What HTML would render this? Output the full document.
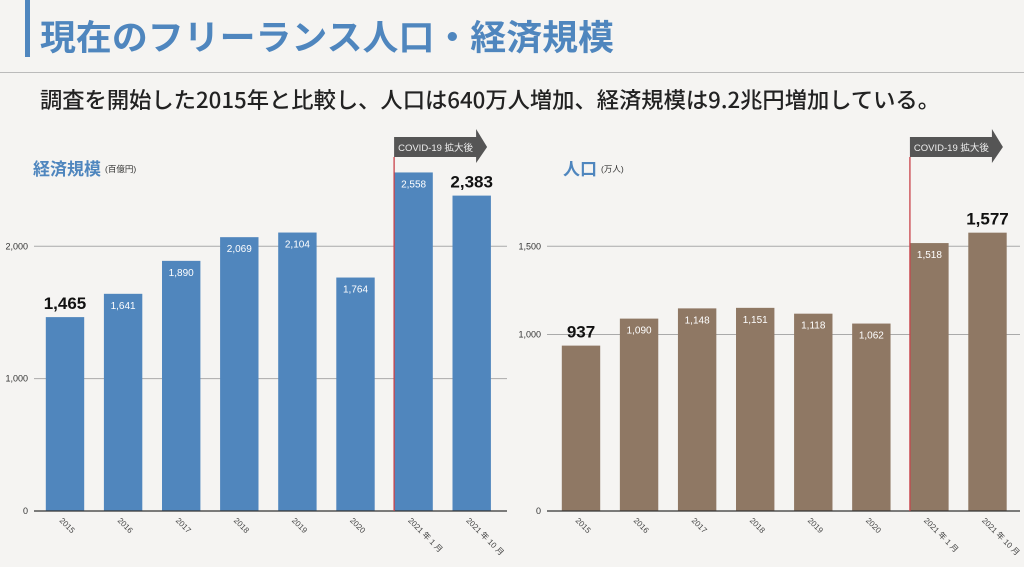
<!DOCTYPE html>
<html><head><meta charset="utf-8"><style>
html,body{margin:0;padding:0;background:#f5f4f2;}
svg{display:block;font-family:"Liberation Sans","Noto Sans CJK JP",sans-serif;}
</style></head><body>
<svg id="s" width="1024" height="567" viewBox="0 0 1024 567" xmlns="http://www.w3.org/2000/svg">
<rect width="1024" height="567" fill="#f5f4f2"/>
<rect x="25" y="0" width="5" height="57" fill="#4f86be"/>
<text x="40" y="50" font-size="35" font-weight="bold" fill="#4f86be" textLength="574" lengthAdjust="spacingAndGlyphs" font-family="Noto Sans CJK JP, sans-serif">現在のフリーランス人口・経済規模</text>
<line x1="0" y1="72.5" x2="1024" y2="72.5" stroke="#bbb" stroke-width="1"/>
<text x="40" y="108" font-size="22" font-weight="500" fill="#222" textLength="900" lengthAdjust="spacingAndGlyphs" font-family="Noto Sans CJK JP, sans-serif">調査を開始した2015年と比較し、人口は640万人増加、経済規模は9.2兆円増加している。</text>
<g id="left"></g>
<g id="right"></g>
</svg>
<script>
const categories = ["2015","2016","2017","2018","2019","2020","2021年1月","2021年10月"];
const economyValues = [1465,1641,1890,2069,2104,1764,2558,2383];
const economyTicks = [0,1000,2000];
const economyTickLabels = ["0","1,000","2,000"];
const populationValues = [937,1090,1148,1151,1118,1062,1518,1577];
const populationTicks = [0,1000,1500];
const populationTickLabels = ["0","1,000","1,500"];
const NS = "http://www.w3.org/2000/svg";
function mk(tag, attrs, parent){const e=document.createElementNS(NS,tag);for(const k in attrs)e.setAttribute(k,attrs[k]);parent.appendChild(e);return e;}
function fmt(v){return v.toLocaleString("en-US");}
function drawChart(g, cfg){
  const y = v => cfg.base - v*cfg.scale;
  const x = i => cfg.c0 + i*cfg.step;
  cfg.ticks.forEach((t,i)=>{
    if(t>0){const gl=mk("line",{x1:cfg.ax0,x2:cfg.ax1,y1:y(t),y2:y(t),stroke:"#aaa","stroke-width":1},g);
    
    }
    const tl=mk("text",{x:cfg.ax0-6,y:y(t)+3,"font-size":9,fill:"#333","text-anchor":"end"},g);
    tl.textContent=cfg.tickLabels[i];
    
    
  });
  cfg.values.forEach((v,i)=>{
    const b=mk("rect",{x:x(i)-19.2,y:y(v),width:38.4,height:cfg.base-y(v),fill:cfg.color},g);
    
    
    const big = (i===0||i===categories.length-1);
    const t=mk("text",{x:x(i),"text-anchor":"middle"},g);
    if(big){t.setAttribute("y",y(v)-8);t.setAttribute("font-size",17);t.setAttribute("font-weight","bold");t.setAttribute("fill","#111");}
    else{t.setAttribute("y",y(v)+15);t.setAttribute("font-size",10);t.setAttribute("fill","#fff");}
    t.textContent=fmt(v);
    
    
    const c=mk("text",{x:0,y:0,"font-size":8,fill:"#444",transform:`translate(${x(i)-6},${cfg.base+10}) rotate(45)`},g);
    c.textContent=categories[i].replace("年"," 年 ").replace("月"," 月");
    
    
  });
  const ax=mk("line",{x1:cfg.ax0,x2:cfg.ax1,y1:cfg.base,y2:cfg.base,stroke:"#333","stroke-width":1.2},g);
  
  
  const rx = x(6)-19.5;
  const rl=mk("line",{x1:rx,x2:rx,y1:157,y2:cfg.base,stroke:"#c9424a","stroke-width":1.3},g);
  
  
  const ar=mk("polygon",{points:`${rx},137 ${rx+82},137 ${rx+82},129 ${rx+93},147 ${rx+82},163 ${rx+82},157 ${rx},157`,fill:"#555"},g);
  
  
  const at=mk("text",{x:rx+4,y:151,"font-size":9.5,fill:"#eee"},g);
  at.textContent="COVID-19 拡大後";
  
  
  const tt=mk("text",{x:cfg.titleX,y:175,"font-size":17,"font-weight":"bold",fill:"#4f86be"},g);
  tt.textContent=cfg.title;
  
  
  const tu=mk("text",{x:cfg.titleX+cfg.title.length*17+4,y:172,"font-size":8.5,fill:"#333"},g);
  tu.textContent=cfg.unit;
  
  
}
drawChart(document.getElementById("left"),{values:economyValues,ticks:economyTicks,tickLabels:economyTickLabels,base:511,scale:0.13235,c0:65,step:58.1,ax0:34,ax1:507,color:"#5086bd",title:"経済規模",unit:"(百億円)",titleX:33});
drawChart(document.getElementById("right"),{values:populationValues,ticks:populationTicks,tickLabels:populationTickLabels,base:511,scale:0.1765,c0:581,step:58.07,ax0:547,ax1:1020,color:"#8f7864",title:"人口",unit:"(万人)",titleX:563});
</script>
</body></html>
